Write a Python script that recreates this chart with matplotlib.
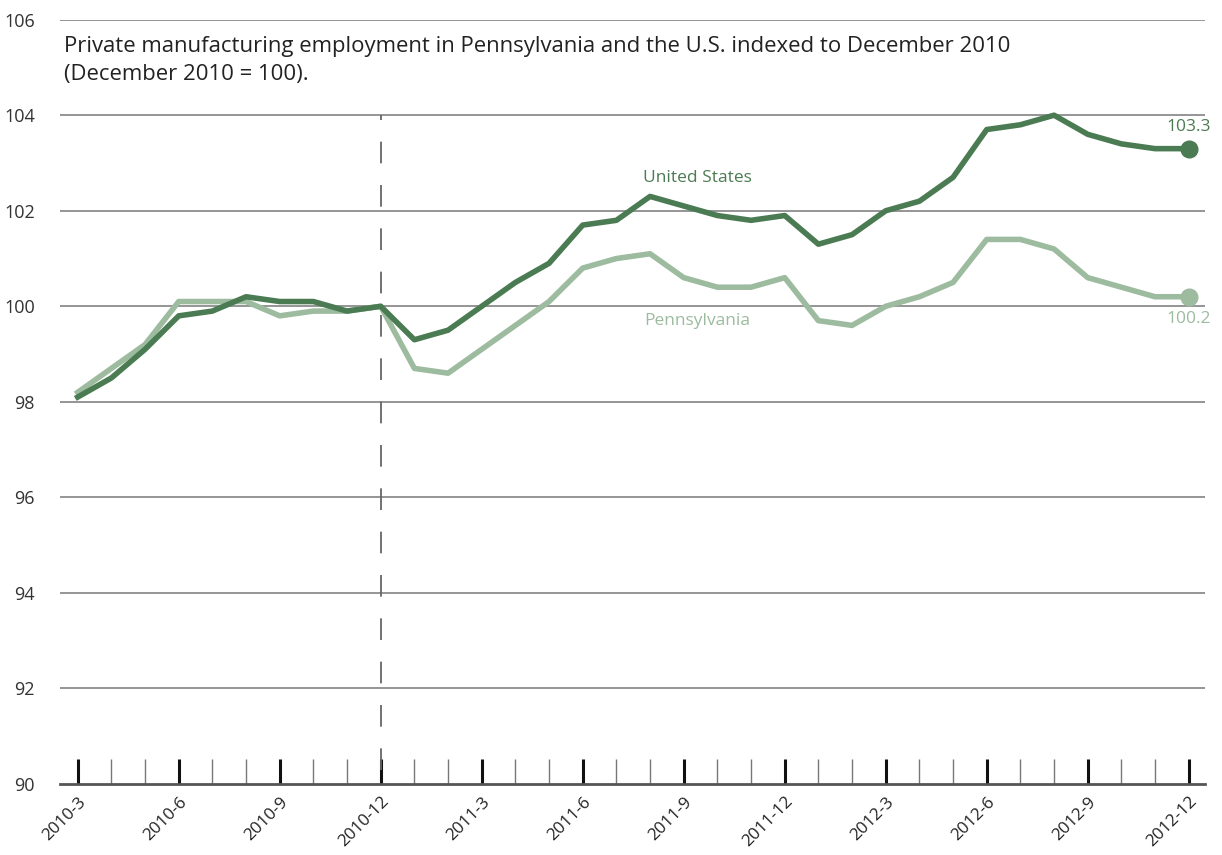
import matplotlib
matplotlib.use("Agg")
import matplotlib.pyplot as plt
import numpy as np

plt.rcParams['font.family'] = ['Open Sans', 'DejaVu Sans']

# monthly, 2010-3 .. 2012-12
months = ["%d-%d" % (2010 + (m - 1) // 12, (m - 1) % 12 + 1) for m in range(3, 37)]
united_states = [98.1, 98.5, 99.1, 99.8, 99.9, 100.2, 100.1, 100.1, 99.9, 100.0,
                 99.3, 99.5, 100.0, 100.5, 100.9, 101.7, 101.8, 102.3, 102.1, 101.9,
                 101.8, 101.9, 101.3, 101.5, 102.0, 102.2, 102.7, 103.7, 103.8, 104.0,
                 103.6, 103.4, 103.3, 103.3]
pennsylvania = [98.2, 98.7, 99.2, 100.1, 100.1, 100.1, 99.8, 99.9, 99.9, 100.0,
                98.7, 98.6, 99.1, 99.6, 100.1, 100.8, 101.0, 101.1, 100.6, 100.4,
                100.4, 100.6, 99.7, 99.6, 100.0, 100.2, 100.5, 101.4, 101.4, 101.2,
                100.6, 100.4, 100.2, 100.2]
yticks = [90, 92, 94, 96, 98, 100, 102, 104, 106]

us_color = '#4b7b52'
pa_color = '#9dbb9f'
grid_color = '#8c8c8c'

x = np.arange(len(months))

fig = plt.figure(figsize=(12.22, 8.55), dpi=100)
ax = fig.add_axes([0.049, 0.083, 0.937, 0.894])

for y in yticks[1:]:
    ax.axhline(y, color=grid_color, lw=1.3, zorder=1)

# reference line at December 2010
ref = months.index("2010-12")
ax.plot([ref, ref], [90.3, 104], color='#666666', lw=1.3, dashes=(12, 12), zorder=2)

ax.plot(x, pennsylvania, color=pa_color, lw=4, solid_joinstyle='round', zorder=3)
ax.plot(x, united_states, color=us_color, lw=4, solid_joinstyle='round', zorder=4)
ax.plot(x[-1], pennsylvania[-1], 'o', color=pa_color, ms=12, zorder=3)
ax.plot(x[-1], united_states[-1], 'o', color=us_color, ms=12, zorder=4)

ax.text(x[-1], united_states[-1] + 0.28, "%.1f" % united_states[-1], color=us_color,
        fontsize=12.5, ha='center', va='bottom')
ax.text(x[-1], pennsylvania[-1] - 0.3, "%.1f" % pennsylvania[-1], color=pa_color,
        fontsize=12.5, ha='center', va='top')
ax.text(18.4, 102.68, "United States", color=us_color, fontsize=12.5, ha='center', va='center')
ax.text(18.4, 99.7, "Pennsylvania", color=pa_color, fontsize=12.5, ha='center', va='center')

ax.text(0.004, 0.978, "Private manufacturing employment in Pennsylvania and the U.S. indexed to December 2010\n(December 2010 = 100).",
        transform=ax.transAxes, fontsize=15.9, ha='left', va='top', linespacing=1.4, color='#222222')

ax.set_xlim(-0.53, len(months) - 1 + 0.48)
ax.set_ylim(90, 106)
ax.set_yticks(yticks)
ax.tick_params(axis='y', length=0, labelsize=13, pad=18, labelcolor='#333333')

major = [i for i, m in enumerate(months) if int(m.split('-')[1]) % 3 == 0]
ax.set_xticks(major)
ax.set_xticklabels([months[i] for i in major], rotation=45, ha='right', rotation_mode='anchor',
                   fontsize=12.3, color='#222222')
ax.set_xticks(x, minor=True)
ax.tick_params(axis='x', which='major', direction='in', length=18, width=2.2, color='#111111', pad=7)
ax.tick_params(axis='x', which='minor', direction='in', length=18, width=1.0, color='#777777')

for s in ['top', 'right', 'left']:
    ax.spines[s].set_visible(False)
ax.spines['bottom'].set_color('#555555')
ax.spines['bottom'].set_linewidth(2)

fig.savefig("out.png", dpi=100)
